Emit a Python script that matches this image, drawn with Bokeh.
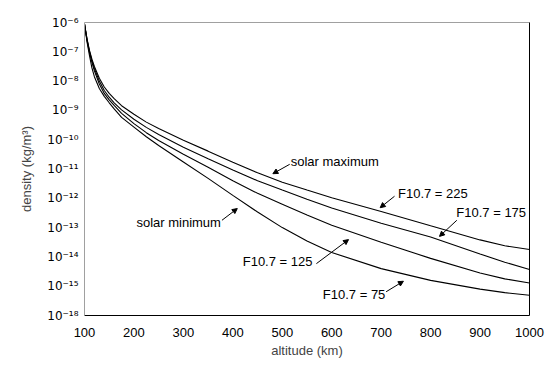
import numpy as np
from bokeh.plotting import figure
from bokeh.models import (FixedTicker, LinearAxis, Range1d, Label, Arrow, NormalHead,
                          ColumnDataSource)
from bokeh.embed import file_html
from bokeh.resources import INLINE

# ---------------- data (log10 of density, kg/m^3) ----------------
altitude = [100, 105, 110, 115, 120, 130, 140, 150, 160, 175, 200, 225, 250, 300,
            350, 400, 450, 500, 550, 600, 700, 800, 900, 950, 1000]
f225 = [-6.05, -6.55, -6.95, -7.25, -7.5, -7.9, -8.2, -8.42, -8.6, -8.84, -9.13,
        -9.4, -9.62, -10.02, -10.39, -10.77, -11.13, -11.45, -11.72, -11.98, -12.45,
        -12.94, -13.42, -13.62, -13.75]
f175 = [-6.05, -6.57, -6.98, -7.3, -7.57, -8.0, -8.32, -8.55, -8.74, -8.98, -9.3,
        -9.58, -9.82, -10.26, -10.65, -11.03, -11.4, -11.72, -12.03, -12.33, -12.85,
        -13.32, -13.9, -14.18, -14.43]
f125 = [-6.05, -6.6, -7.02, -7.36, -7.65, -8.1, -8.42, -8.64, -8.83, -9.1, -9.45,
        -9.76, -10.03, -10.5, -10.94, -11.4, -11.83, -12.2, -12.57, -12.92, -13.5,
        -14.05, -14.55, -14.75, -14.89]
f75 = [-6.05, -6.65, -7.12, -7.55, -7.85, -8.25, -8.52, -8.74, -8.95, -9.24, -9.57,
       -9.9, -10.2, -10.76, -11.32, -11.9, -12.47, -13.0, -13.46, -13.85, -14.4,
       -14.8, -15.1, -15.22, -15.31]

x_ticks = [100, 200, 300, 400, 500, 600, 700, 800, 900, 1000]
y_ticks = [-6, -7, -8, -9, -10, -11, -12, -13, -14, -15, -16]
y_tick_labels = ["10⁻⁶", "10⁻⁷", "10⁻⁸", "10⁻⁹", "10⁻¹⁰", "10⁻¹¹", "10⁻¹²",
                 "10⁻¹³", "10⁻¹⁴", "10⁻¹⁵", "10⁻¹⁸"]

FONT = "Liberation Sans"
FS = "13px"

p = figure(width=556, height=371, output_backend="svg", toolbar_location=None,
           x_range=Range1d(100, 1000), y_range=Range1d(-16, -6),
           min_border_left=84, min_border_right=27, min_border_top=22,
           min_border_bottom=56)
p.outline_line_color = None
p.grid.visible = False
p.background_fill_color = "white"
p.border_fill_color = "white"

for ys in (f225, f175, f125, f75):
    src = ColumnDataSource(dict(x=altitude, y=ys))
    p.line("x", "y", source=src, line_color="black", line_width=1.1)

# axes
xa = p.xaxis[0]
xa.ticker = FixedTicker(ticks=x_ticks)
xa.axis_label = "altitude (km)"
xa.axis_line_color = "black"
xa.major_tick_line_color = None
xa.minor_tick_line_color = None
xa.major_tick_out = 0
xa.major_label_standoff = 12
xa.axis_label_standoff = 3
xa.major_label_text_font = FONT
xa.major_label_text_font_size = FS
xa.major_label_text_color = "black"
xa.axis_label_text_font = FONT
xa.axis_label_text_font_size = FS
xa.axis_label_text_font_style = "normal"

ya = p.yaxis[0]
ya.ticker = FixedTicker(ticks=y_ticks)
ya.major_label_overrides = {t: l for t, l in zip(y_ticks, y_tick_labels)}
ya.axis_label = "density (kg/m³)"
ya.axis_line_color = "#a0a0a0"
ya.major_tick_line_color = None
ya.minor_tick_line_color = None
ya.major_tick_out = 0
ya.major_label_standoff = 6
ya.axis_label_standoff = 10
ya.major_label_text_font = "DejaVu Sans"
ya.major_label_text_font_size = "12px"
ya.major_label_text_color = "black"
ya.axis_label_text_font = FONT
ya.axis_label_text_font_size = FS
ya.axis_label_text_font_style = "normal"

top = LinearAxis(ticker=FixedTicker(ticks=[]), axis_line_color="#a0a0a0",
                 major_tick_line_color=None, minor_tick_line_color=None,
                 major_label_text_font_size="0px")
right = LinearAxis(ticker=FixedTicker(ticks=[]), axis_line_color="black",
                   major_tick_line_color=None, minor_tick_line_color=None,
                   major_label_text_font_size="0px")
p.add_layout(top, "above")
p.add_layout(right, "right")

# annotations
labels = [
    ("solar maximum", 517, -10.73),
    ("solar minimum", 205, -12.84),
    ("F10.7 = 225", 734, -11.84),
    ("F10.7 = 175", 852, -12.49),
    ("F10.7 = 125", 420, -14.17),
    ("F10.7 = 75", 582, -15.27),
]
for txt, lx, ly in labels:
    p.add_layout(Label(x=lx, y=ly, text=txt, text_font=FONT, text_font_size=FS,
                       text_baseline="middle", text_align="left", text_color="black"))

arrows = [
    (515, -10.84, 481, -11.16),
    (378, -12.75, 409, -12.35),
    (727, -11.93, 698, -12.32),
    (853, -12.75, 818, -13.30),
    (569, -14.23, 634, -13.41),
    (710, -15.19, 745, -14.83),
]
for x0, y0, x1, y1 in arrows:
    p.add_layout(Arrow(x_start=x0, y_start=y0, x_end=x1, y_end=y1,
                       line_color="black", line_width=1,
                       end=NormalHead(size=5, fill_color="black", line_color="black")))

open("out.html", "w").write(file_html(p, INLINE))
